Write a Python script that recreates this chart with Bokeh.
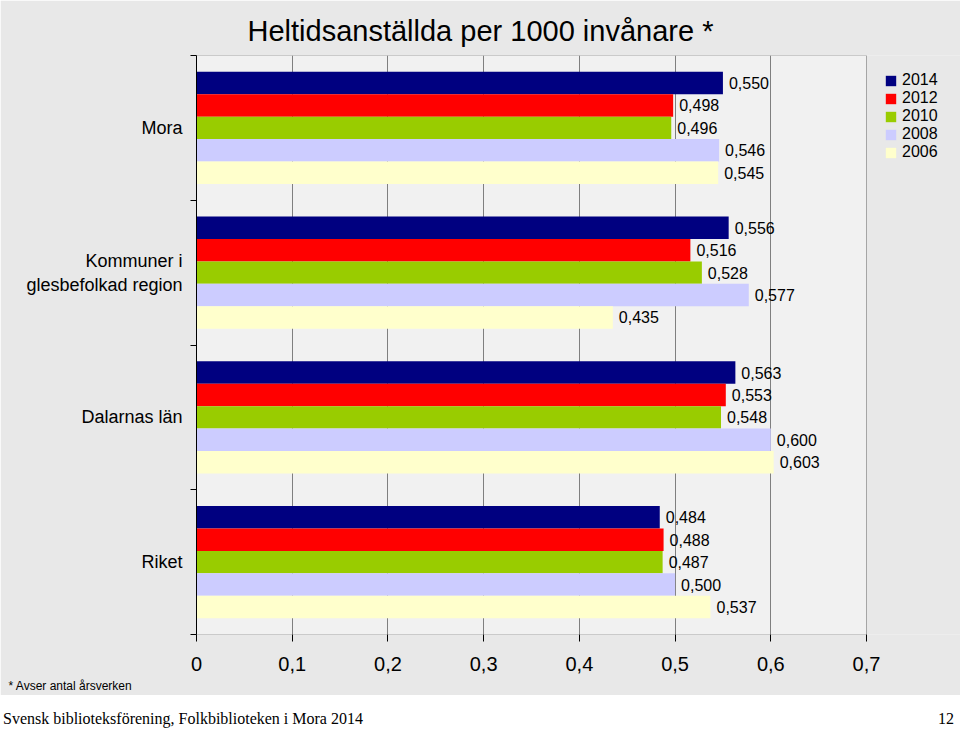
from bokeh.plotting import figure
from bokeh.models import (Range1d, FixedTicker, CustomJSTickFormatter, Legend,
                          LegendItem, ColumnDataSource, Title, BoxAnnotation, Div)
from bokeh.layouts import column
from bokeh.transform import dodge
from bokeh.embed import file_html
from bokeh.resources import INLINE
from bokeh.core.properties import value

# ---- data (bottom to top) ----
categories = ["Riket", "Dalarnas län", "Kommuner i\nglesbefolkad region", "Mora"]
years = ["2014", "2012", "2010", "2008", "2006"]
v2014 = [0.484, 0.563, 0.556, 0.550]
v2012 = [0.488, 0.553, 0.516, 0.498]
v2010 = [0.487, 0.548, 0.528, 0.496]
v2008 = [0.500, 0.600, 0.577, 0.546]
v2006 = [0.537, 0.603, 0.435, 0.545]
series = [v2014, v2012, v2010, v2008, v2006]
colors = ["#000080", "#ff0000", "#99cc00", "#ccccff", "#ffffcc"]
x_ticks = [0, 0.1, 0.2, 0.3, 0.4, 0.5, 0.6, 0.7]
title_text = "Heltidsanställda per 1000 invånare *"
footnote_text = "* Avser antal årsverken"
footer_text = "Svensk biblioteksförening, Folkbiblioteken i Mora 2014"
page_text = "12"

FONT = value("Liberation Sans")
W, H = 960, 695
LEFT, AXIS_END = 196, 866          # pixel positions of value 0 and of the last tick
x_max = x_ticks[-1] * (W - LEFT) / (AXIS_END - LEFT)

p = figure(width=W, height=H, output_backend="svg", toolbar_location=None,
           x_range=Range1d(0, x_max), y_range=Range1d(-0.5, 3.5),
           min_border_left=LEFT, min_border_right=0, min_border_top=55, min_border_bottom=61)
p.border_fill_color = "#e8e8e8"
p.background_fill_color = "#e8e8e8"
p.outline_line_color = None

# plot area panel (value range 0 .. last tick)
p.add_layout(BoxAnnotation(left=x_ticks[0], right=x_ticks[-1], fill_color="#f1f1f1",
                           fill_alpha=1, line_color="black", line_width=1, level="image"))

p.title.text = title_text
p.title.align = "left"
p.title.offset = 51
p.title.text_font = "Liberation Sans"
p.title.text_font_style = "normal"
p.title.text_font_size = "29px"
p.title.text_color = "black"
p.title.standoff = 17

cat_pos = list(range(len(categories)))
offsets = [0.31, 0.155, 0.0, -0.155, -0.31]
bar_h = 0.155

items = []
for yr, vals, col, off in zip(years, series, colors, offsets):
    src = ColumnDataSource(dict(pos=cat_pos, v=vals,
                                lab=[f"{v:.3f}".replace(".", ",") for v in vals]))
    r = p.hbar(y=dodge("pos", off), left=0, right="v", height=bar_h, source=src,
               fill_color=col, line_color=None)
    p.text(x="v", y=dodge("pos", off), text="lab", source=src, x_offset=6,
           text_baseline="middle", text_align="left", text_font=FONT,
           text_font_size="16px", text_color="black")
    items.append(LegendItem(label=yr, renderers=[r]))

# axes
xt = FixedTicker(ticks=x_ticks, minor_ticks=[])
p.xaxis.ticker = xt
p.xaxis.formatter = CustomJSTickFormatter(
    code="return tick == 0 ? '0' : tick.toFixed(1).replace('.', ',');")
p.xaxis.axis_line_color = None
p.xaxis.major_tick_line_color = "black"
p.xaxis.major_tick_out = 7
p.xaxis.major_tick_in = 0
p.xaxis.major_label_standoff = 15
p.xaxis.major_label_text_font = "Liberation Sans"
p.xaxis.major_label_text_font_size = "20px"
p.xaxis.major_label_text_color = "black"

yt = FixedTicker(ticks=cat_pos, minor_ticks=[-0.5, 0.5, 1.5, 2.5, 3.5])
p.yaxis.ticker = yt
p.yaxis.major_label_overrides = {i: c for i, c in enumerate(categories)}
p.yaxis.axis_line_color = "black"
p.yaxis.major_tick_line_color = None
p.yaxis.major_tick_out = 6
p.yaxis.major_tick_in = 0
p.yaxis.minor_tick_line_color = "black"
p.yaxis.minor_tick_out = 6
p.yaxis.minor_tick_in = 0
p.yaxis.major_label_standoff = 8
p.yaxis.major_label_text_font = "Liberation Sans"
p.yaxis.major_label_text_font_size = "18px"
p.yaxis.major_label_text_color = "black"

p.xgrid.ticker = FixedTicker(ticks=x_ticks[1:-1], minor_ticks=[])
p.xgrid.grid_line_color = "#7f7f7f"
p.xgrid.grid_line_width = 1
p.ygrid.visible = False

legend = Legend(items=items, location=(688, 473), orientation="vertical",
                label_text_font="Liberation Sans", label_text_font_size="16px",
                label_text_color="black",
                glyph_width=13, glyph_height=13, label_standoff=5, spacing=0,
                padding=0, margin=0, border_line_color=None, background_fill_alpha=0,
                label_height=14)
p.add_layout(legend)

foot = Title(text=footnote_text, align="left", offset=8 - LEFT, text_font="Liberation Sans",
             text_font_style="normal", text_font_size="12px", text_color="black", standoff=6)
p.add_layout(foot, "below")

# footer strip
footer = Div(
    text=(f'<div style="display:flex;justify-content:space-between;width:954px;'
          f'padding:16px 0 0 3px;font-family:\'Liberation Serif\';font-size:16px;'
          f'line-height:16px;color:black;">'
          f'<span>{footer_text}</span><span>{page_text}</span></div>'),
    width=W, height=35, margin=0, styles={"background-color": "white"})

layout = column(p, footer, spacing=0)
open("out.html", "w").write(file_html(layout, INLINE))
